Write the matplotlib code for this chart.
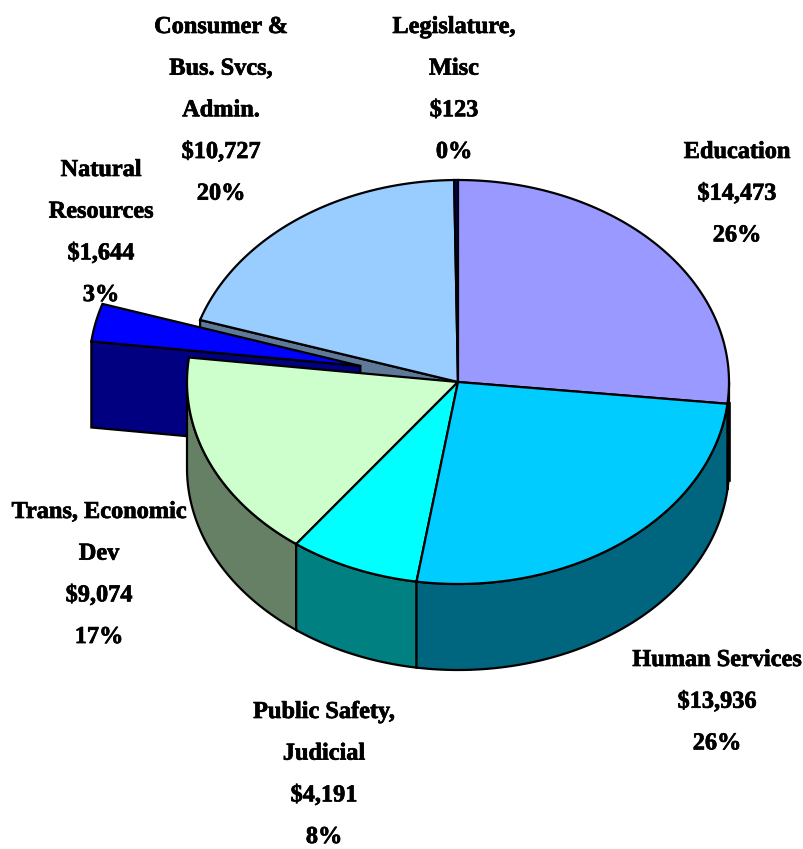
import numpy as np
import matplotlib
matplotlib.use("Agg")
import matplotlib.pyplot as plt
import matplotlib.patheffects as pe
from matplotlib.patches import Polygon

plt.rcParams['font.family'] = ['Liberation Serif', 'DejaVu Serif']

# clockwise from 12 o'clock
names = ["Education", "Human Services", "Public Safety,\nJudicial", "Trans, Economic\nDev",
         "Natural\nResources", "Consumer &\nBus. Svcs,\nAdmin.", "Legislature,\nMisc"]
values = [14473, 13936, 4191, 9074, 1644, 10727, 123]
percents = ["26%", "26%", "8%", "17%", "3%", "20%", "0%"]
top_colors = ["#9999FF", "#00CCFF", "#00FFFF", "#CCFFCC", "#0000FF", "#99CCFF", "#000080"]
side_colors = ["#666699", "#006680", "#008080", "#668066", "#000080", "#5F7A99", "#000040"]
label_x = [737, 717, 324, 99, 101, 221, 454]
label_top = [142, 650, 702, 502, 160, 17, 17]

CX, CY = 458, 382
RX, RY = 271, 202
DEPTH = 86
EXPLODE = 100
LW = 1.6


def pt(deg, cx=CX, cy=CY):
    a = np.radians(deg)
    return cx + RX * np.sin(a), cy - RY * np.cos(a)


def arc(a0, a1, cx, cy):
    t = np.linspace(a0, a1, 120)
    return np.column_stack(pt(t, cx, cy))


fig = plt.figure(figsize=(8.04, 8.49), dpi=100)
ax = fig.add_axes([0, 0, 1, 1])
ax.set_xlim(0, 804)
ax.set_ylim(849, 0)
ax.axis("off")

fracs = np.array(values) / sum(values) * 360
ends = np.cumsum(fracs)
starts = ends - fracs


def draw_slice(i, cx, cy, z):
    a0, a1 = starts[i], ends[i]
    # outer wall, only the front half shows
    a_low, a_high = max(a0, 90), min(a1, 270)
    if a_low < a_high:
        rim = arc(a_low, a_high, cx, cy)
        wall = np.vstack([rim, rim[::-1] + [0, DEPTH]])
        ax.add_patch(Polygon(wall, closed=True, fc=side_colors[i], ec="black", lw=LW, zorder=z))
    top = np.vstack([[cx, cy], arc(a0, a1, cx, cy)])
    ax.add_patch(Polygon(top, closed=True, fc=top_colors[i], ec="black", lw=LW, zorder=z + 1))


# cut wall of the consumer slice, seen through the gap left by the exploded slice
p = pt(starts[5])
wall = [[CX, CY], p, [p[0], p[1] + DEPTH], [CX, CY + DEPTH]]
ax.add_patch(Polygon(wall, closed=True, fc=side_colors[5], ec="black", lw=LW, zorder=1))

# exploded slice
i = 4
mid = np.radians((starts[i] + ends[i]) / 2)
ex, ey = CX + EXPLODE * np.sin(mid), CY - EXPLODE * np.cos(mid) * RY / RX
p = pt(starts[i], ex, ey)
wall = [[ex, ey], p, [p[0], p[1] + DEPTH], [ex, ey + DEPTH]]
ax.add_patch(Polygon(wall, closed=True, fc=side_colors[i], ec="black", lw=LW, zorder=2))
draw_slice(i, ex, ey, 3)

draw_slice(5, CX, CY, 5)
draw_slice(6, CX, CY, 5)

for i in (3, 2, 1):
    draw_slice(i, CX, CY, 8 + 2 * (3 - i))
draw_slice(0, CX, CY, 7)

# heavy right end of the education wall
p = pt(ends[0])
ax.plot([p[0] + 1.5, p[0] + 1.5], [p[1], p[1] + 76], color="black", lw=2.6, zorder=15)

for i in range(len(names)):
    txt = f"{names[i]}\n${values[i]:,}\n{percents[i]}"
    ax.text(label_x[i], label_top[i], txt, ha="center", va="top", fontsize=17.5,
            fontweight="bold", linespacing=2.29, color="black", zorder=20,
            path_effects=[pe.withStroke(linewidth=0.5, foreground="black")])

fig.savefig("out.png", dpi=100)
